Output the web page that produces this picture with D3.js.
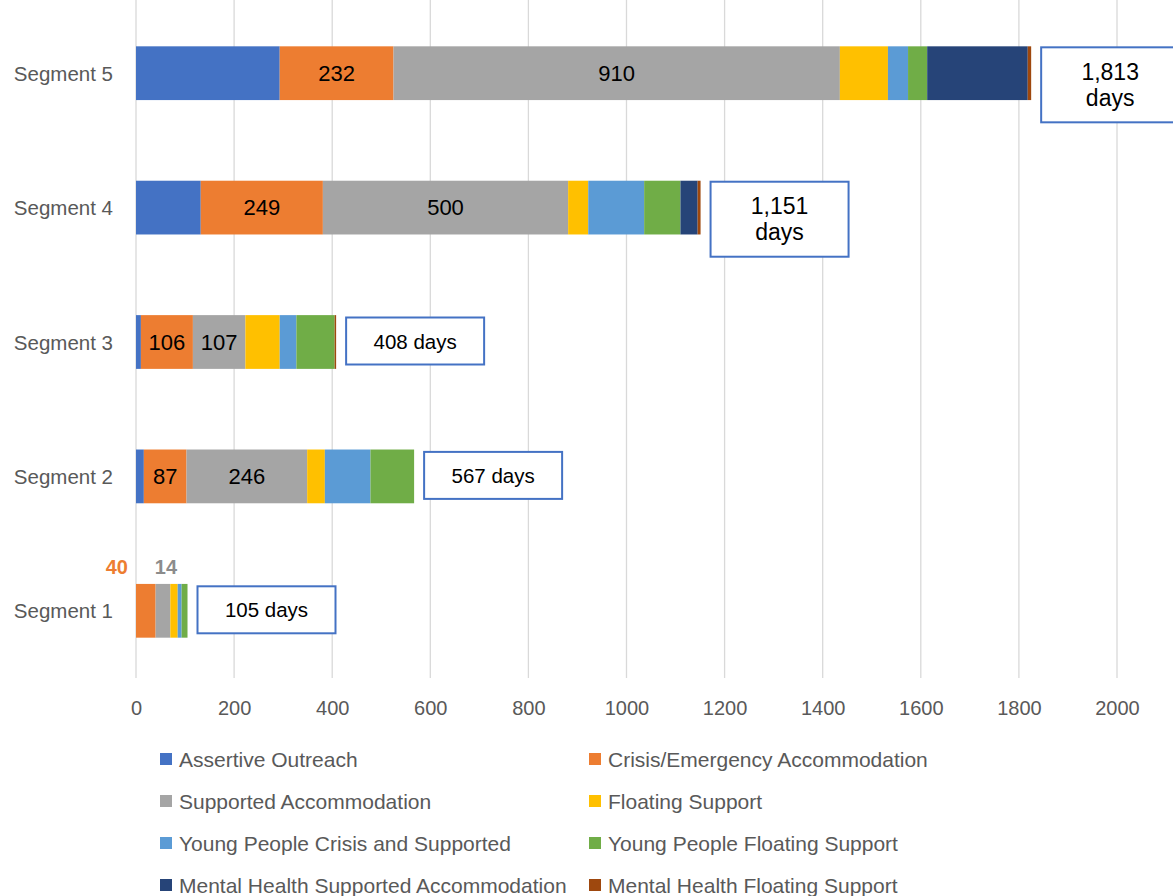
<!DOCTYPE html>
<html>
<head>
<meta charset="utf-8">
<script src="https://cdn.jsdelivr.net/npm/d3@7"></script>
<style>
    body { margin: 0; background: #ffffff; }
    svg { display: block; font-family: "Liberation Sans", Arial, sans-serif; }
</style>
</head>
<body>
<div id="chart"></div>
<script>
// Categories, top of chart first
const segments = ["Segment 5", "Segment 4", "Segment 3", "Segment 2", "Segment 1"];

// Series names and colours (legend order)
const seriesNames = [
    "Assertive Outreach",
    "Crisis/Emergency Accommodation",
    "Supported Accommodation",
    "Floating Support",
    "Young People Crisis and Supported",
    "Young People Floating Support",
    "Mental Health Supported Accommodation",
    "Mental Health Floating Support"
];
const seriesColors = ["#4472c4", "#ed7d31", "#a5a5a5", "#ffc000", "#5b9bd5", "#70ad47", "#264478", "#9e480e"];

// Values per series, in the order of `segments` (Segment 5 .. Segment 1)
const assertiveOutreach   = [293, 132, 10, 16, 0];
const crisisEmergency     = [232, 249, 106, 87, 40];
const supportedAccom      = [910, 500, 107, 246, 30];
const floatingSupport     = [98, 41, 70, 36, 15];
const ypCrisisSupported   = [41, 114, 34, 93, 8];
const ypFloatingSupport   = [39, 74, 78, 89, 12];
const mhSupportedAccom    = [205, 35, 0, 0, 0];
const mhFloatingSupport   = [7, 6, 3, 0, 0];

const seriesValues = [assertiveOutreach, crisisEmergency, supportedAccom, floatingSupport,
    ypCrisisSupported, ypFloatingSupport, mhSupportedAccom, mhFloatingSupport];

// Data labels shown on the chart
const crisisLabels    = [232, 249, 106, 87, 40];
const supportedLabels = [910, 500, 107, 246, 14];
const totalDays       = [1813, 1151, 408, 567, 105];

// Axis ticks
const xTicks = [0, 200, 400, 600, 800, 1000, 1200, 1400, 1600, 1800, 2000];

const width = 1173, height = 896;
const plot = { left: 136, right: 1117, top: 6, bottom: 678 };

const svg = d3.select("#chart").append("svg")
    .attr("width", width)
    .attr("height", height);

const x = d3.scaleLinear().domain([0, 2000]).range([plot.left, plot.right]);
const y = d3.scaleBand().domain(segments).range([plot.top, plot.bottom])
    .paddingInner(0.6).paddingOuter(0.3);

// Gridlines
svg.append("g")
    .selectAll("line")
    .data(xTicks)
    .join("line")
    .attr("x1", d => x(d)).attr("x2", d => x(d))
    .attr("y1", 0).attr("y2", plot.bottom)
    .attr("stroke", "#d9d9d9")
    .attr("stroke-width", 1.3);

// Axis labels
const xAxis = d3.axisBottom(x).tickValues(xTicks).tickFormat(d3.format("d"))
    .tickSize(0).tickPadding(23);
const axisG = svg.append("g").attr("transform", `translate(0,${plot.bottom})`).call(xAxis);
axisG.select(".domain").remove();
axisG.selectAll("text")
    .attr("fill", "#595959")
    .style("font-size", "20px")
    .style("font-family", "Liberation Sans, Arial, sans-serif");

// Category labels
svg.append("g")
    .selectAll("text")
    .data(segments)
    .join("text")
    .attr("x", plot.left - 23)
    .attr("y", d => y(d) + y.bandwidth() / 2)
    .attr("text-anchor", "end")
    .attr("dominant-baseline", "central")
    .attr("fill", "#595959")
    .style("font-size", "20.5px")
    .text(d => d);

// Stack the data
const rows = segments.map((s, i) => {
    const row = { segment: s };
    seriesNames.forEach((name, k) => { row[name] = seriesValues[k][i]; });
    return row;
});
const stacked = d3.stack().keys(seriesNames)(rows);

const layers = svg.append("g")
    .selectAll("g")
    .data(stacked)
    .join("g")
    .attr("fill", (d, k) => seriesColors[k]);

layers.selectAll("rect")
    .data(d => d)
    .join("rect")
    .attr("x", d => x(d[0]))
    .attr("y", d => y(d.data.segment))
    .attr("width", d => x(d[1]) - x(d[0]))
    .attr("height", y.bandwidth());

// Labels in orange and grey segments
function addSegmentLabels(layerIndex, labels, color) {
    const layer = stacked[layerIndex];
    layer.forEach((d, i) => {
        const cx = (x(d[0]) + x(d[1])) / 2;
        const cy = y(d.data.segment) + y.bandwidth() / 2;
        if (d.data.segment === "Segment 1") {
            // Small bar: label sits above, bold and coloured
            const shift = layerIndex === 1 ? -29 : 3;
            svg.append("text")
                .attr("x", cx + shift)
                .attr("y", y(d.data.segment) - 17)
                .attr("text-anchor", "middle")
                .attr("dominant-baseline", "central")
                .attr("fill", color)
                .style("font-size", "20px")
                .style("font-weight", "bold")
                .text(labels[i]);
        } else {
            svg.append("text")
                .attr("x", cx)
                .attr("y", cy)
                .attr("text-anchor", "middle")
                .attr("dominant-baseline", "central")
                .attr("fill", "#000000")
                .style("font-size", "22px")
                .text(labels[i]);
        }
    });
}
addSegmentLabels(1, crisisLabels, "#ed7d31");
addSegmentLabels(2, supportedLabels, "#8c8c8c");

// Total boxes
const lastLayer = stacked[stacked.length - 1];
segments.forEach((s, i) => {
    const end = x(lastLayer[i][1]);
    const total = totalDays[i];
    const label = d3.format(",")(total);
    const lines = total >= 1000 ? [label, "days"] : [label + " days"];
    const boxW = 138;
    const boxH = lines.length > 1 ? 75 : 47;
    const top = lines.length > 1 ? y(s) + 1 : y(s) + y.bandwidth() / 2 - boxH / 2 - 1;
    const bx = end + 10;

    svg.append("rect")
        .attr("x", bx).attr("y", top)
        .attr("width", boxW).attr("height", boxH)
        .attr("fill", "#ffffff")
        .attr("stroke", "#4472c4")
        .attr("stroke-width", 2);

    const txt = svg.append("text")
        .attr("text-anchor", "middle")
        .attr("fill", "#000000")
        .style("font-size", lines.length > 1 ? "23px" : "20.5px");
    lines.forEach((line, j) => {
        txt.append("tspan")
            .attr("x", bx + boxW / 2)
            .attr("y", top + boxH / 2 + (j - (lines.length - 1) / 2) * 26)
            .attr("dominant-baseline", "central")
            .text(line);
    });
});

// Legend
const legend = svg.append("g");
seriesNames.forEach((name, k) => {
    const col = k % 2, row = Math.floor(k / 2);
    const lx = col === 0 ? 160 : 589;
    const ly = 759 + row * 42;
    legend.append("rect")
        .attr("x", lx).attr("y", ly - 6)
        .attr("width", 12).attr("height", 12)
        .attr("fill", seriesColors[k]);
    legend.append("text")
        .attr("x", lx + 19)
        .attr("y", ly)
        .attr("dominant-baseline", "central")
        .attr("fill", "#595959")
        .style("font-size", "21px")
        .text(name);
});
</script>
</body>
</html>
